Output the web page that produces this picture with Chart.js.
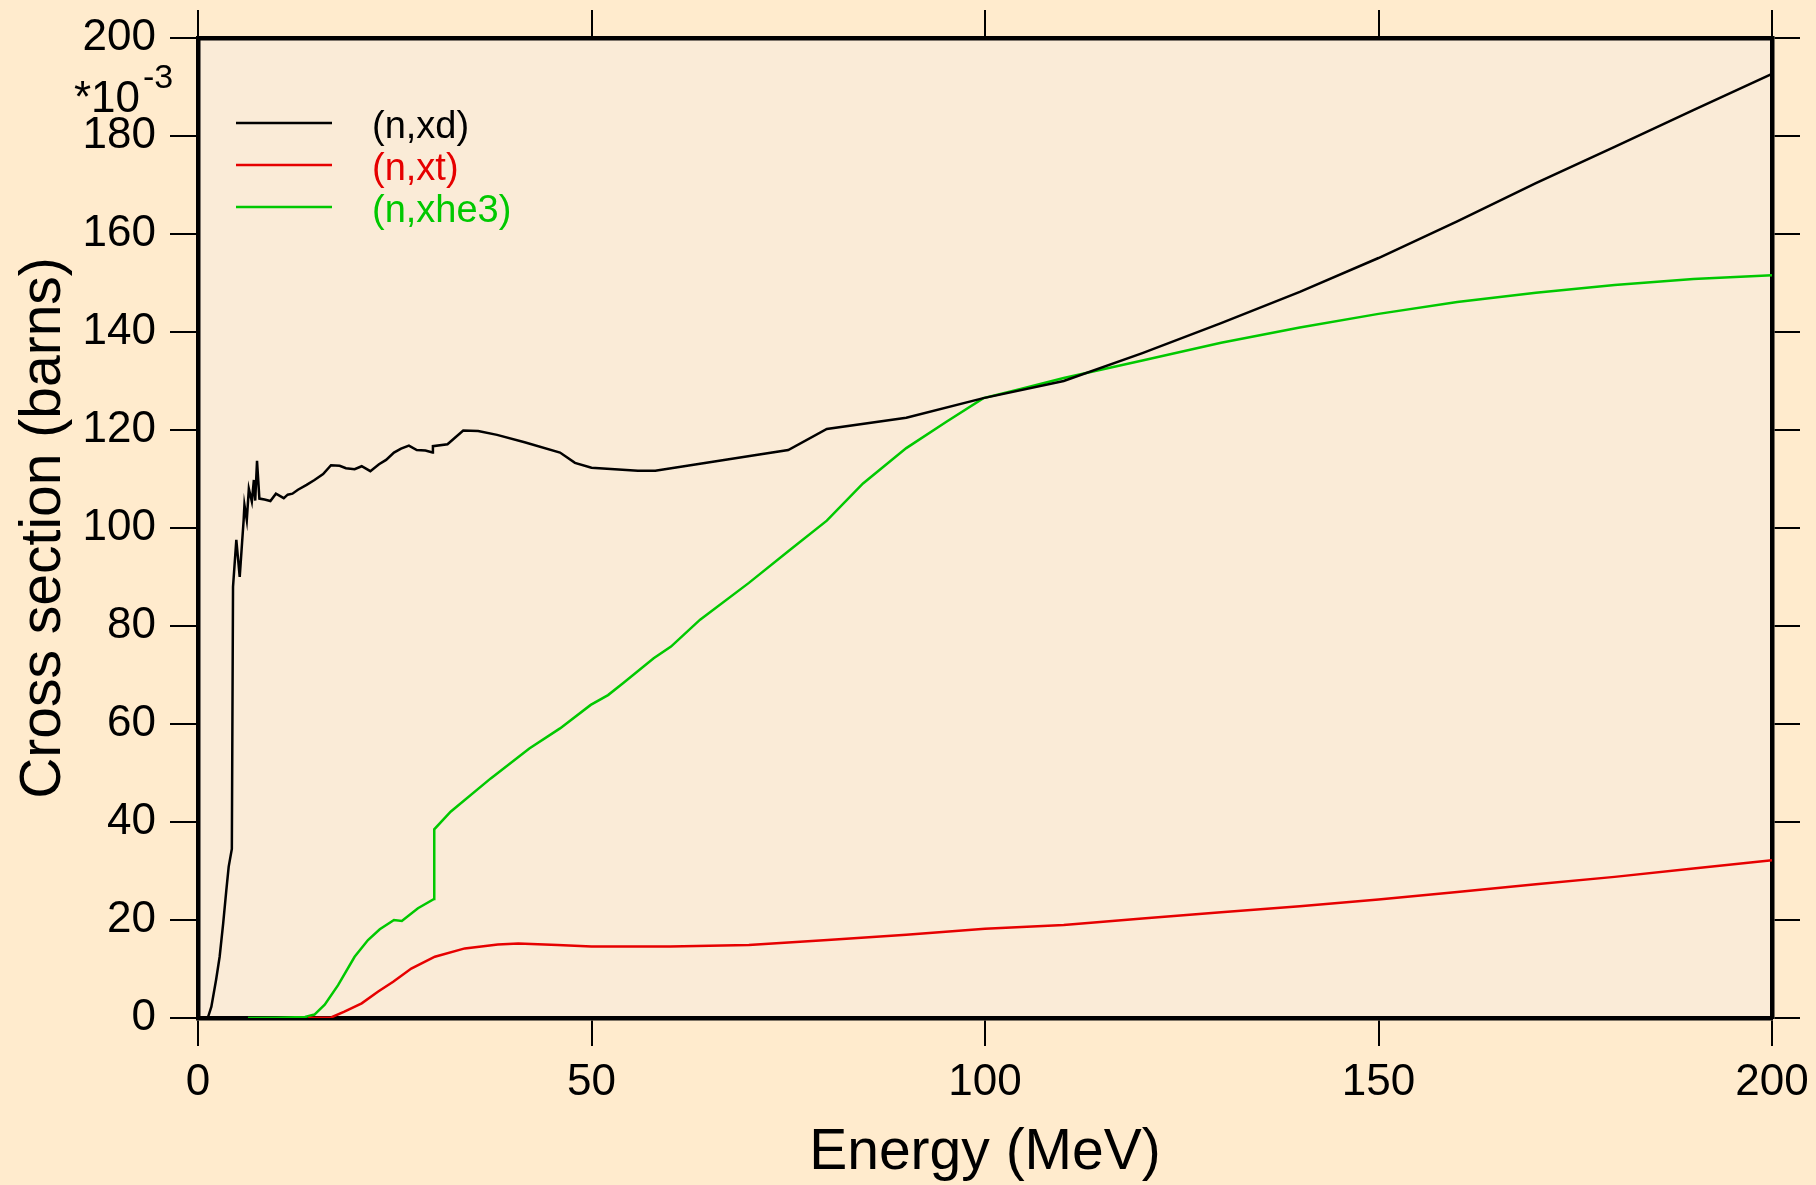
<!DOCTYPE html>
<html>
<head>
<meta charset="utf-8">
<title>Cross section</title>
<script src="https://cdn.jsdelivr.net/npm/chart.js@4.4.1/dist/chart.umd.min.js"></script>
<style>
  html, body { margin: 0; padding: 0; background: #ffebcd; }
  #wrap { width: 1816px; height: 1185px; }
</style>
</head>
<body>
<div id="wrap"><canvas id="xs-chart" width="1816" height="1185"></canvas></div>
<script>
// energies in MeV, cross sections in mb (axis shows *10^-3 barns)
const xdEnergy = [1.0, 1.3, 1.7, 2.3, 2.75, 3.2, 3.6, 3.9, 4.3, 4.45, 4.87, 5.3, 5.6, 5.8, 5.9, 6.2, 6.46, 6.84, 7.1, 7.27, 7.5, 7.8, 8.45, 9.2, 9.9, 10.9, 11.4, 12.0, 12.7, 13.8, 14.8, 15.9, 16.9, 18.0, 18.8, 19.9, 20.8, 21.9, 23.0, 23.9, 24.9, 25.8, 26.8, 27.8, 28.9, 29.8, 29.85, 31.7, 33.7, 35.6, 38.0, 41.5, 46.0, 47.9, 50.0, 55.9, 58.1, 70.1, 75.0, 79.9, 90.0, 99.8, 110, 120, 130, 140, 150, 160, 170, 180, 190, 200];
const xdValue = [0, 0.3, 2.3, 7.8, 12.5, 19.3, 26.1, 30.9, 34.5, 88, 97.6, 90, 97, 101.6, 104.7, 101.6, 108, 105.4, 109.8, 105.6, 113.7, 106, 105.8, 105.5, 107, 106.1, 106.8, 107, 107.8, 108.8, 109.8, 111, 112.8, 112.7, 112.2, 112, 112.6, 111.6, 113, 113.9, 115.4, 116.2, 116.8, 115.9, 115.8, 115.4, 116.7, 117.1, 119.9, 119.8, 119, 117.5, 115.4, 113.3, 112.3, 111.7, 111.7, 114.7, 115.9, 120.2, 122.5, 126.5, 130, 135.7, 141.8, 148.2, 155.1, 162.6, 170.4, 177.8, 185.3, 192.7];

const xtEnergy = [14, 16.9, 18.6, 20.8, 22.9, 24.8, 27.1, 30.1, 33.9, 38.1, 40.7, 45.7, 50, 60, 70, 80, 90, 100, 110, 120, 130, 140, 150, 160, 170, 180, 190, 200];
const xtValue = [0, 0.1, 1.3, 3, 5.4, 7.4, 10.1, 12.5, 14.2, 15.0, 15.2, 14.9, 14.6, 14.6, 14.9, 15.9, 17, 18.2, 19.0, 20.3, 21.6, 22.8, 24.2, 25.7, 27.3, 28.8, 30.5, 32.2];

const xhe3Energy = [6.35, 10, 13.6, 14.8, 16.1, 17.8, 19.9, 21.6, 23.1, 24.9, 25.9, 27.95, 30, 30.02, 32.1, 37.2, 42.1, 46, 49.9, 52.1, 54, 57.9, 60.1, 63.8, 70, 75.2, 79.9, 84.5, 90, 95.1, 99.8, 104.4, 110, 120, 130, 140, 150, 160, 170, 180, 190, 200];
const xhe3Value = [0, 0.05, 0.2, 0.7, 2.7, 6.7, 12.5, 15.9, 18.1, 20, 19.8, 22.4, 24.3, 38.5, 42.1, 48.9, 55, 59.1, 63.9, 65.9, 68.3, 73.4, 75.8, 81.3, 88.8, 95.5, 101.5, 109.1, 116.3, 121.7, 126.5, 128.3, 130.6, 134.2, 137.8, 140.9, 143.7, 146.1, 148, 149.6, 150.8, 151.6];

const seriesLabels = ['(n,xd)', '(n,xt)', '(n,xhe3)'];
const seriesColors = ['#000000', '#e60000', '#00c800'];

const FONT = "'Liberation Sans', Arial, sans-serif";

function toPoints(xs, ys) {
  return xs.map((x, i) => ({ x: x, y: ys[i] }));
}

// fixed box sizes so the plot frame lands where the original has it
function fixBox(size) {
  return s => {
    if (s.isHorizontal()) s.height = size; else s.width = size;
    s.paddingLeft = 0; s.paddingRight = 0; s.paddingTop = 0; s.paddingBottom = 0;
  };
}

// background colours for page and plot area
const backgroundPlugin = {
  id: 'backgrounds',
  beforeDraw(chart) {
    const { ctx, chartArea } = chart;
    ctx.save();
    ctx.fillStyle = '#ffebcd';
    ctx.fillRect(0, 0, chart.width, chart.height);
    ctx.fillStyle = '#faebd7';
    ctx.fillRect(chartArea.left, chartArea.top, chartArea.right - chartArea.left, chartArea.bottom - chartArea.top);
    ctx.restore();
  }
};

// legend inside the plot + the *10^-3 multiplier
const extrasPlugin = {
  id: 'extras',
  afterDraw(chart) {
    const ctx = chart.ctx;
    ctx.save();
    chart.data.datasets.forEach((ds, i) => {
      const y = 123 + i * 42;
      ctx.strokeStyle = ds.borderColor;
      ctx.lineWidth = 2.5;
      ctx.beginPath();
      ctx.moveTo(236, y);
      ctx.lineTo(332, y);
      ctx.stroke();
      ctx.fillStyle = ds.borderColor;
      ctx.font = '38px ' + FONT;
      ctx.textAlign = 'left';
      ctx.textBaseline = 'alphabetic';
      ctx.fillText(ds.label, 372, y + 15);
    });
    ctx.fillStyle = '#000';
    ctx.font = '44px ' + FONT;
    ctx.fillText('*10', 74, 112);
    ctx.font = '34px ' + FONT;
    ctx.fillText('-3', 143, 88);
    ctx.restore();
  }
};

const gridStyle = { drawOnChartArea: false, drawTicks: true, tickLength: 28, color: '#000', lineWidth: 2 };
const borderStyle = { display: true, color: '#000', width: 4.5 };
const tickFont = { family: FONT, size: 44 };

const config = {
  type: 'scatter',
  data: {
    datasets: [
      { label: seriesLabels[0], data: toPoints(xdEnergy, xdValue), borderColor: seriesColors[0], borderWidth: 2.5 },
      { label: seriesLabels[1], data: toPoints(xtEnergy, xtValue), borderColor: seriesColors[1], borderWidth: 2.5 },
      { label: seriesLabels[2], data: toPoints(xhe3Energy, xhe3Value), borderColor: seriesColors[2], borderWidth: 2.5 }
    ].map(ds => Object.assign(ds, {
      showLine: true, pointRadius: 0, tension: 0, fill: false, xAxisID: 'x', yAxisID: 'y'
    }))
  },
  options: {
    responsive: false,
    animation: false,
    devicePixelRatio: 1,
    layout: { padding: 0 },
    plugins: { legend: { display: false }, tooltip: { enabled: false } },
    scales: {
      x: {
        type: 'linear', position: 'bottom', min: 0, max: 200,
        ticks: { stepSize: 50, autoSkip: false, maxRotation: 0, color: '#000', font: tickFont, padding: 10 },
        grid: gridStyle, border: borderStyle,
        title: { display: true, text: 'Energy (MeV)', color: '#000', font: { family: FONT, size: 57, lineHeight: 1.1 }, padding: { top: 0, bottom: 0 } },
        afterFit: fixBox(167)
      },
      x2: {
        type: 'linear', position: 'top', min: 0, max: 200,
        ticks: { stepSize: 50, display: false },
        grid: gridStyle, border: borderStyle,
        afterFit: fixBox(38)
      },
      y: {
        type: 'linear', position: 'left', min: 0, max: 200,
        ticks: { stepSize: 20, autoSkip: false, color: '#000', font: tickFont, padding: 14 },
        grid: gridStyle, border: borderStyle,
        title: { display: true, text: 'Cross section (barns)', color: '#000', font: { family: FONT, size: 57, lineHeight: 1.2 }, padding: { top: 10, bottom: 0 } },
        afterFit: fixBox(198)
      },
      y2: {
        type: 'linear', position: 'right', min: 0, max: 200,
        ticks: { stepSize: 20, display: false },
        grid: gridStyle, border: borderStyle,
        afterFit: fixBox(44)
      }
    }
  },
  plugins: [backgroundPlugin, extrasPlugin]
};

const chartCtx = document.getElementById('xs-chart').getContext('2d');
window.xsChart = new Chart(chartCtx, config);
</script>
</body>
</html>
